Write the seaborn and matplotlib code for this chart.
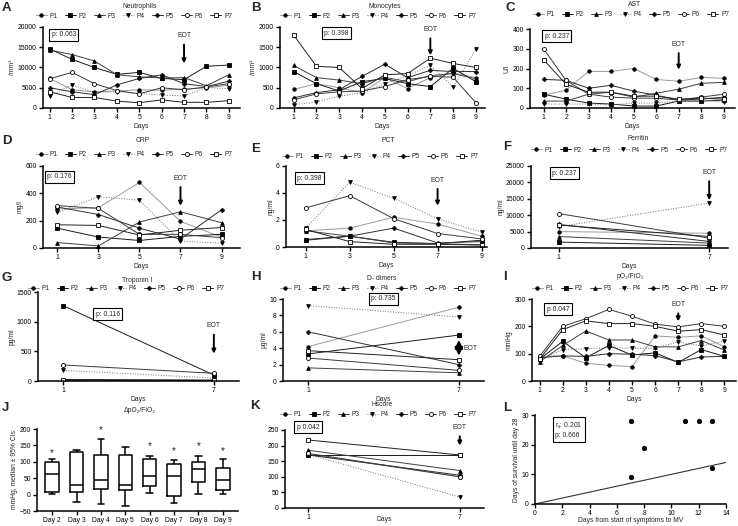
import matplotlib
matplotlib.use('Agg')
import matplotlib.pyplot as plt
import seaborn as sns
import pandas as pd
from matplotlib.lines import Line2D

# ---------------- data ----------------
patients = ['P1', 'P2', 'P3', 'P4', 'P5', 'P6', 'P7']
days_all = [1, 2, 3, 4, 5, 6, 7, 8, 9]
days_odd = [1, 3, 5, 7, 9]
days_two = [1, 7]

neutrophils = [
    [7300, 4500, 4000, 4200, 4500, 4400, 4700, 5000, 5600],
    [14600, 12000, 10000, 8300, 8800, 7300, 7000, 10300, 10600],
    [14300, 13200, 11600, 8200, 7700, 7400, 7500, 5500, 8200],
    [3000, 5700, 3800, 4000, 3600, 3200, 3000, 5000, 4800],
    [5000, 4000, 3300, 5700, 7300, 8200, 6000, 5300, 6600],
    [7200, 8800, 6000, 4300, 3500, 5000, 4500, 5200, 6000],
    [4000, 2600, 2600, 1700, 1300, 2000, 1400, 1400, 1800],
]
monocytes = [
    [460, 600, 500, 380, 750, 480, 750, 870, 750],
    [900, 600, 420, 650, 730, 600, 530, 980, 650],
    [1050, 750, 690, 600, 760, 650, 800, 850, 720],
    [80, 150, 290, 370, 600, 800, 1050, 520, 1450],
    [250, 380, 450, 780, 1080, 750, 930, 900, 900],
    [200, 350, 400, 420, 530, 700, 780, 760, 130],
    [1800, 1030, 1000, 480, 820, 850, 1230, 1100, 1000],
]
ast = [
    [65, 90, 185, 185, 200, 145, 135, 155, 150],
    [70, 45, 25, 20, 10, 10, 35, 35, 40],
    [35, 35, 70, 80, 55, 75, 95, 125, 130],
    [20, 20, 20, 15, 25, 25, 35, 40, 30],
    [145, 140, 100, 115, 85, 65, 40, 45, 55],
    [300, 140, 70, 55, 50, 50, 40, 55, 70],
    [245, 120, 80, 80, 60, 60, 45, 50, 45],
]
crp = [
    [285, 295, 480, 195, 80],
    [145, 80, 55, 85, 100],
    [40, 15, 190, 265, 185],
    [260, 375, 350, 50, 35],
    [300, 245, 145, 65, 280],
    [310, 290, 100, 100, 75],
    [170, 165, 95, 130, 150],
]
pct = [
    [1.2, 1.4, 2.2, 1.7, 0.8],
    [0.55, 0.8, 0.35, 0.25, 0.5],
    [1.2, 0.8, 0.3, 0.25, 0.15],
    [1.4, 4.8, 3.6, 2.1, 1.1],
    [0.5, 0.8, 1.4, 0.3, 0.4],
    [2.9, 3.8, 2.1, 1.0, 0.6],
    [1.3, 0.4, 0.2, 0.2, 0.15],
]
ferritin = [
    [5000, 4500], [1800, 800], [3500, 1500], [6500, 13700],
    [7200, 2000], [10500, 3000], [7000, 3500],
]
troponin = [
    [15, 10], [1270, 100], [10, 8], [180, 50],
    [20, 15], [270, 130], [25, 10],
]
ddimers = [
    [4.2, 9.0], [3.3, 5.6], [1.6, 1.0], [9.2, 7.8],
    [6.0, 2.0], [2.8, 1.3], [3.7, 2.6],
]
pf_ratio = [
    [90, 92, 65, 57, 53, 165, 160, 165, 125],
    [80, 145, 85, 130, 95, 103, 68, 115, 90],
    [70, 130, 183, 150, 150, 125, 125, 148, 113],
    [75, 115, 118, 122, 120, 120, 143, 128, 146],
    [85, 92, 90, 100, 98, 93, 70, 88, 90],
    [90, 200, 228, 262, 237, 208, 198, 210, 200],
    [80, 188, 220, 210, 210, 200, 182, 188, 168],
]
hscore = [
    [172, 100], [170, 170], [185, 120], [172, 35],
    [170, 105], [175, 100], [218, 170],
]
delta_days = ['Day 2', 'Day 3', 'Day 4', 'Day 5', 'Day 6', 'Day 7', 'Day 8', 'Day 9']
delta_summary = [
    [2, 8, 62, 100, 108],
    [-23, 8, 28, 130, 135],
    [-30, 17, 43, 120, 170],
    [-35, 15, 30, 120, 145],
    [5, 25, 57, 110, 117],
    [-25, -5, 57, 93, 105],
    [2, 38, 78, 100, 118],
    [3, 13, 45, 80, 108],
]
star_days = ['Day 2', 'Day 4', 'Day 6', 'Day 7', 'Day 8', 'Day 9']
star_y = [128, 196, 147, 132, 147, 132]
symptom_days = [7, 8, 7, 11, 12, 13, 13]
survival_days = [28, 19, 9, 28, 28, 28, 12]
ref_x = [0, 14]
ref_y = [0, 14]

# ---------------- style ----------------
sns.set_theme(style='ticks')
plt.rcParams['font.family'] = ['Liberation Sans', 'DejaVu Sans']
plt.rcParams['axes.edgecolor'] = 'black'
plt.rcParams['xtick.color'] = 'black'
plt.rcParams['ytick.color'] = 'black'

line_colors = ['#9a9a9a', '#1a1a1a', '#404040', '#707070', '#2e2e2e', '#3a3a3a', '#222222']
line_styles = ['-', '-', '-', ':', '-', '-', '-']
markers = ['o', 's', '^', 'v', 'P', 'o', 's']
face = ['black', 'black', 'black', 'black', 'black', 'white', 'white']
msize = [2.5, 2.5, 2.7, 2.7, 2.7, 2.9, 2.9]

W, H = 738, 526
fig = plt.figure(figsize=(W / 100, H / 100), dpi=100)
FS = 4.9
LFS = 4.8


def add_ax(l, r, t, b):
    return fig.add_axes([l / W, 1 - b / H, (r - l) / W, (b - t) / H])


def style_ax(ax):
    sns.despine(ax=ax)
    for s in ['left', 'bottom']:
        ax.spines[s].set_linewidth(1.1)
        ax.spines[s].set_color('black')
    ax.tick_params(axis='both', length=3, width=1, labelsize=FS, pad=1.5)
    ax.grid(False)


def draw_lines(ax, days, series):
    for i, vals in enumerate(series):
        sns.lineplot(x=days, y=vals, ax=ax, color=line_colors[i], linestyle=line_styles[i],
                     linewidth=0.7, marker=markers[i], markersize=msize[i],
                     markerfacecolor=face[i], markeredgecolor='black',
                     markeredgewidth=0.6, legend=False)


def legend_at(ax, xc, yc):
    handles = [Line2D([0], [0], color=line_colors[i], linestyle=line_styles[i], lw=0.7,
                      marker=markers[i], markersize=msize[i], markerfacecolor=face[i],
                      markeredgecolor='black', markeredgewidth=0.6) for i in range(7)]
    ax.legend(handles, patients, loc='center', bbox_to_anchor=(xc / W, 1 - yc / H),
              bbox_transform=fig.transFigure, ncol=7, frameon=False, fontsize=LFS,
              handlelength=1.6, handletextpad=0.45, columnspacing=1.1,
              borderpad=0, borderaxespad=0)


def title_at(text, xc, yc):
    fig.text(xc / W, 1 - yc / H, text, ha='center', va='center', fontsize=FS)


def letter(text, x, y):
    fig.text(x / W, 1 - y / H, text, ha='left', va='center', fontsize=9.5, fontweight='bold')


def pbox(ax, x, y, text):
    ax.text(x, y, text, ha='left', va='center', fontsize=FS,
            bbox=dict(boxstyle='square,pad=0.35', fc='white', ec='black', lw=0.8))


def eot(ax, x, ytop, yend):
    ax.annotate('EOT', xy=(x, yend), xytext=(x, ytop), ha='center', va='bottom', fontsize=FS,
                arrowprops=dict(arrowstyle='-|>,head_length=0.45,head_width=0.22', lw=1.4,
                                color='black', shrinkA=1.5, shrinkB=0))


def labels(ax, ylabel, xlabel='Days', pad=1):
    ax.set_ylabel(ylabel, fontsize=FS, labelpad=1)
    ax.set_xlabel(xlabel, fontsize=FS, labelpad=pad)


# ---------- A ----------
ax = add_ax(43, 240, 27, 108)
draw_lines(ax, days_all, neutrophils)
ax.set_xlim(0.7, 9.5); ax.set_ylim(0, 20000)
ax.set_xticks(days_all); ax.set_yticks([0, 5000, 10000, 15000, 20000])
style_ax(ax); labels(ax, '/mm³')
pbox(ax, 1.08, 18100, 'p: 0.063')
eot(ax, 7, 17000, 11000)
legend_at(ax, 134, 16); title_at('Neutrophils', 140, 6); letter('A', 2, 8)

# ---------- B ----------
ax = add_ax(280, 485, 27, 108)
draw_lines(ax, days_all, monocytes)
ax.set_xlim(0.4, 9.4); ax.set_ylim(0, 2000)
ax.set_xticks(days_all); ax.set_yticks([0, 500, 1000, 1500, 2000])
style_ax(ax); labels(ax, '/mm³')
pbox(ax, 2.35, 1850, 'p: 0.398')
eot(ax, 7, 1850, 1300)
legend_at(ax, 378, 16); title_at('Monocytes', 385, 6); letter('B', 251, 8)

# ---------- C ----------
ax = add_ax(530, 735, 29, 108)
draw_lines(ax, days_all, ast)
ax.set_xlim(0.4, 9.5); ax.set_ylim(0, 400)
ax.set_xticks(days_all); ax.set_yticks([0, 100, 200, 300, 400])
style_ax(ax); labels(ax, 'U/l')
pbox(ax, 1.05, 363, 'p: 0.237')
eot(ax, 7, 305, 194)
legend_at(ax, 631, 15); title_at('AST', 635, 5); letter('C', 505, 8)

# ---------- D ----------
ax = add_ax(43, 240, 166, 248)
draw_lines(ax, days_odd, crp)
ax.set_xlim(0.3, 9.9); ax.set_ylim(0, 600)
ax.set_xticks(days_odd); ax.set_yticks([0, 200, 400, 600])
style_ax(ax); labels(ax, 'mg/l')
pbox(ax, 0.5, 522, 'p: 0.176')
eot(ax, 7, 485, 309)
legend_at(ax, 134, 155); title_at('CRP', 143, 141); letter('D', 2, 141)

# ---------- E ----------
ax = add_ax(286, 487, 166, 247)
draw_lines(ax, days_odd, pct)
ax.set_xlim(0.1, 9.25); ax.set_ylim(0, 6)
ax.set_xticks(days_odd); ax.set_yticks([0, 2, 4, 6])
style_ax(ax); labels(ax, 'ng/ml')
pbox(ax, 0.62, 5.1, 'p: 0.398')
eot(ax, 7, 4.7, 3.06)
legend_at(ax, 380, 157); title_at('PCT', 388, 141); letter('E', 251, 149)

# ---------- F ----------
ax = add_ax(531, 728, 166, 248)
draw_lines(ax, days_two, ferritin)
ax.set_xlim(-0.1, 7.75); ax.set_ylim(0, 25000)
ax.set_xticks(days_two); ax.set_yticks([0, 5000, 10000, 15000, 20000, 25000])
style_ax(ax); labels(ax, 'ng/ml')
pbox(ax, 0.75, 22750, 'p: 0.237')
eot(ax, 7, 22000, 14600)
legend_at(ax, 629, 150); title_at('Ferritin', 638, 138); letter('F', 503, 147)

# ---------- G ----------
ax = add_ax(38, 239, 292, 381)
draw_lines(ax, days_two, troponin)
ax.set_xlim(0, 8); ax.set_ylim(0, 1500)
ax.set_xticks(days_two); ax.set_yticks([0, 500, 1000, 1500])
style_ax(ax); labels(ax, 'pg/ml')
pbox(ax, 2.3, 1124, 'p: 0.116')
eot(ax, 7, 870, 460)
legend_at(ax, 126, 289); title_at('Troponin I', 137, 280); letter('G', 2, 278)

# ---------- H ----------
ax = add_ax(283, 484, 299, 381)
draw_lines(ax, days_two, ddimers)
ax.set_xlim(0, 8); ax.set_ylim(0, 10)
ax.set_xticks(days_two); ax.set_yticks([0, 2, 4, 6, 8, 10])
style_ax(ax); labels(ax, 'μg/ml')
pbox(ax, 3.5, 10.0, 'p: 0.735')
ax.annotate('', xy=(7, 5.0), xytext=(7, 3.1),
            arrowprops=dict(arrowstyle='<|-|>,head_length=0.4,head_width=0.2', lw=1.4,
                            color='black', shrinkA=0, shrinkB=0))
ax.text(7.18, 4.0, 'EOT', ha='left', va='center', fontsize=FS)
legend_at(ax, 378, 289); title_at('D- dimers', 382, 279); letter('H', 251, 277)

# ---------- I ----------
ax = add_ax(532, 736, 299, 381)
draw_lines(ax, days_all, pf_ratio)
ax.set_xlim(0.67, 9.5); ax.set_ylim(0, 300)
ax.set_xticks(days_all); ax.set_yticks([0, 100, 200, 300])
style_ax(ax); labels(ax, 'mmHg')
pbox(ax, 1.3, 263, 'p 0.047')
eot(ax, 7, 267, 218)
legend_at(ax, 630, 289); title_at('pO₂/FiO₂', 630, 277); letter('I', 503, 277)

# ---------- J ----------
ax = add_ax(37, 238, 429, 511)
rows = []
for d, vals in zip(delta_days, delta_summary):
    for v in vals:
        rows.append({'day': d, 'value': v})
dfj = pd.DataFrame(rows)
sns.boxplot(data=dfj, x='day', y='value', order=delta_days, ax=ax, whis=(0, 100),
            fill=False, color='black', linewidth=1.1, width=0.55)
for d, y in zip(star_days, star_y):
    ax.text(delta_days.index(d), y, '*', ha='center', va='center', fontsize=7)
ax.set_xlim(-0.62, 7.62); ax.set_ylim(-50, 200)
ax.set_yticks([-50, 0, 50, 100, 150, 200])
style_ax(ax)
ax.set_xlabel('')
ax.set_ylabel('mmHg, median ± 95% CIs', fontsize=FS, labelpad=1)
title_at('ΔpO₂/FiO₂', 140, 410); letter('J', 2, 408)

# ---------- K ----------
ax = add_ax(285, 484, 430, 508)
draw_lines(ax, days_two, hscore)
ax.set_xlim(0.08, 7.96); ax.set_ylim(0, 250)
ax.set_xticks(days_two); ax.set_yticks([0, 50, 100, 150, 200, 250])
style_ax(ax)
ax.tick_params(axis='x', pad=1)
ax.set_xlabel(''); ax.set_ylabel('')
fig.text(384 / W, 1 - 519.5 / H, 'Days', ha='center', va='center', fontsize=FS)
pbox(ax, 0.55, 259, 'p 0.042')
eot(ax, 7, 247, 200)
legend_at(ax, 378, 415); title_at('Hscore', 382, 405); letter('K', 250, 406)

# ---------- L ----------
ax = add_ax(535, 726, 415, 504)
sns.lineplot(x=ref_x, y=ref_y, ax=ax, color='#333333', linewidth=0.8, legend=False)
sns.scatterplot(x=symptom_days, y=survival_days, ax=ax, color='black', s=14,
                edgecolor='black', linewidth=0, legend=False)
ax.set_xlim(0, 14); ax.set_ylim(0, 30)
ax.set_xticks([0, 2, 4, 6, 8, 10, 12, 14]); ax.set_yticks([0, 10, 20, 30])
style_ax(ax)
ax.set_xlabel('Days from start of symptoms to MV', fontsize=FS, labelpad=0)
ax.set_ylabel('Days of survival until day 28', fontsize=FS, labelpad=1)
ax.text(1.5, 25, 'r$_s$: 0.201\np: 0.666', ha='left', va='center', fontsize=FS,
        linespacing=1.3,
        bbox=dict(boxstyle='square,pad=0.35', fc='white', ec='black', lw=0.8))
letter('L', 503, 408)

fig.savefig('out.png', dpi=100)
